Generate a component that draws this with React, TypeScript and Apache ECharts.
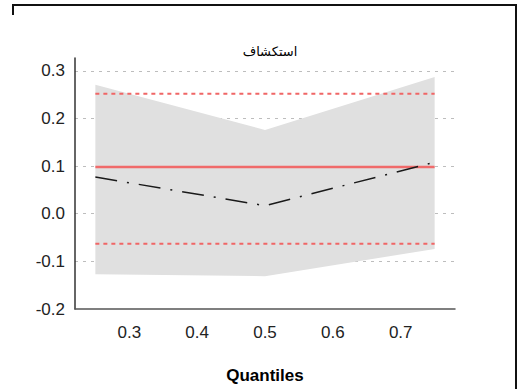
import React, { useEffect, useRef } from "react";
import * as echarts from "echarts";

const quantiles = [0.25, 0.5, 0.75];
const bandLower = [-0.127, -0.131, -0.074];
const bandUpper = [0.271, 0.176, 0.287];
const estimate = [0.077, 0.017, 0.108];
const olsValue = 0.098;
const olsLower = -0.063;
const olsUpper = 0.252;
const xTicks = [0.3, 0.4, 0.5, 0.6, 0.7];
const title = "استكشاف";
const xName = "Quantiles";

export default function App() {
  const ref = useRef<HTMLDivElement>(null);
  useEffect(() => {
    if (!ref.current) return;
    const chart = echarts.init(ref.current, null, { renderer: "svg" });
    const flat = (v: number) => quantiles.map((q) => [q, v]);
    chart.setOption({
      animation: false,
      backgroundColor: "#fff",
      title: {
        text: title,
        left: 265,
        top: 40,
        textAlign: "center",
        textStyle: { fontFamily: "DejaVu Sans", fontSize: 13, fontWeight: "normal", color: "#000" },
      },
      grid: { left: 75, right: 70, top: 58, bottom: 80 },
      xAxis: {
        type: "value",
        min: 0.22,
        max: 0.78,
        name: xName,
        nameLocation: "middle",
        nameGap: 58,
        nameTextStyle: { fontFamily: "Liberation Sans", fontSize: 17, fontWeight: "bold", color: "#000" },
        axisLine: { show: true, onZero: false, lineStyle: { color: "#555", width: 1.5 } },
        axisTick: { show: false },
        splitLine: { show: false },
        axisLabel: {
          customValues: xTicks,
          margin: 15,
          fontFamily: "Liberation Sans",
          fontSize: 17,
          color: "#222",
          formatter: (v: number) => v.toFixed(1),
        },
      },
      yAxis: {
        type: "value",
        min: -0.2,
        max: 0.327,
        interval: 0.1,
        axisLine: { show: true, onZero: false, lineStyle: { color: "#333", width: 1.5 } },
        axisTick: { show: false },
        axisLabel: {
          showMaxLabel: false,
          margin: 10,
          fontFamily: "Liberation Sans",
          fontSize: 17,
          color: "#222",
          formatter: (v: number) => v.toFixed(1),
        },
        splitLine: {
          show: true,
          showMaxLine: false,
          showMinLine: false,
          lineStyle: { color: "#bdbdbd", type: [3, 5], width: 1.2 },
        },
      },
      series: [
        {
          type: "custom",
          silent: true,
          data: quantiles.map((q, i) => [q, bandLower[i], bandUpper[i]]),
          renderItem: (params: any, api: any) => {
            if (params.dataIndex !== 0) return null;
            const upper = quantiles.map((q, i) => api.coord([q, bandUpper[i]]));
            const lower = quantiles.map((q, i) => api.coord([q, bandLower[i]])).reverse();
            return {
              type: "polygon",
              shape: { points: upper.concat(lower) },
              style: { fill: "#e0e0e0", stroke: "none" },
            };
          },
        },
        {
          type: "line",
          data: flat(olsUpper),
          symbol: "none",
          lineStyle: { color: "#f06666", width: 2, type: [4, 4] },
        },
        {
          type: "line",
          data: flat(olsLower),
          symbol: "none",
          lineStyle: { color: "#f06666", width: 2, type: [4, 4] },
        },
        {
          type: "line",
          data: flat(olsValue),
          symbol: "none",
          lineStyle: { color: "#f06a6a", width: 2.5 },
        },
        {
          type: "line",
          data: quantiles.map((q, i) => [q, estimate[i]]),
          symbol: "none",
          lineStyle: { color: "#1a1a1a", width: 1.5, type: [22, 10, 2, 10] },
        },
      ],
      graphic: [
        { type: "line", shape: { x1: 12, y1: 5, x2: 516, y2: 5 }, style: { stroke: "#111", lineWidth: 2 } },
        { type: "line", shape: { x1: 13, y1: 4, x2: 13, y2: 15 }, style: { stroke: "#111", lineWidth: 2 } },
        { type: "line", shape: { x1: 516, y1: 4, x2: 516, y2: 389 }, style: { stroke: "#111", lineWidth: 2 } },
      ],
    });
    return () => chart.dispose();
  }, []);
  return (
    <div
      ref={ref}
      style={{ position: "fixed", left: 0, top: 0, width: 525, height: 389 }}
    />
  );
}
